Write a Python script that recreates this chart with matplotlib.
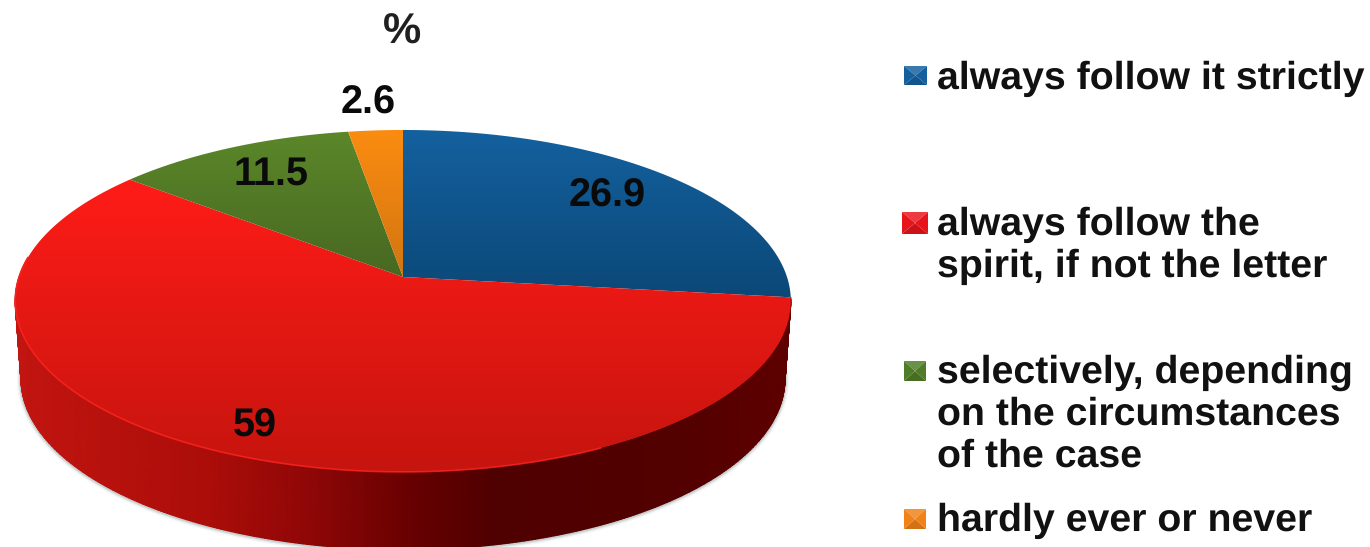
import numpy as np
from matplotlib import pyplot as plt
from matplotlib.colors import LinearSegmentedColormap, to_rgb
from matplotlib.patches import Polygon

plt.rcParams['font.family'] = ['Liberation Sans', 'DejaVu Sans']
plt.rcParams['text.hinting'] = 'none'

values = [26.9, 59, 11.5, 2.6]
legend_lines = [
    ['always follow it strictly'],
    ['always follow the', 'spirit, if not the letter'],
    ['selectively, depending', 'on the circumstances', 'of the case'],
    ['hardly ever or never'],
]
top_colors = [('#14619f', '#0b4877'), ('#ff1c18', '#c6140e'),
              ('#5b8729', '#486822'), ('#fb8c10', '#d27510')]
marker_colors = ['#14609f', '#e8141c', '#4f7c26', '#f08218']

# pie geometry in pixels, tilted disc seen in perspective
cx, cy = 403, 277
a, b, k = 384, 167.6, 0.14
depth = 78
rim_scale = 0.985


def project(theta):
    # theta is clockwise from twelve o'clock
    u, v = np.sin(theta), np.cos(theta)
    return cx + a * u / (1 + k * v), cy - b * v / (1 + k * v)


fig = plt.figure(figsize=(13.7, 5.47), dpi=100)
ax = fig.add_axes([0, 0, 1, 1])

angles = np.r_[0, np.cumsum(values)] / 100 * 2 * np.pi

# soft shadow under the rim and the red side wall
th = np.linspace(angles[1], angles[2], 400)
th = th[np.cos(th) < 0.12]
x_top, y_top = project(th)
x_low = cx + (x_top - cx) * rim_scale
y_low = y_top + depth
for w, al in [(6, 0.05), (4, 0.09), (2.5, 0.16)]:
    ax.plot(x_low, y_low + 0.5, color='#405050', lw=w, alpha=al, zorder=1)

side_cmap = LinearSegmentedColormap.from_list('side', [
    (0.0, '#c21510'), (0.25, '#ab0d09'), (0.38, '#8f0707'), (0.52, '#650000'),
    (0.62, '#4f0000'), (0.85, '#520000'), (1.0, '#5e0000')])
wall_x = np.vstack([x_top, x_low])
wall_y = np.vstack([y_top, y_low])
wall_c = (wall_x - 15) / 776
ax.pcolormesh(wall_x, wall_y, wall_c, cmap=side_cmap, vmin=0, vmax=1,
              shading='gouraud', zorder=2)

# top face, one clipped vertical gradient per slice
for i, (c1, c2) in enumerate(top_colors):
    arc = np.linspace(angles[i], angles[i + 1], 300)
    xs, ys = project(arc)
    pts = np.column_stack([np.r_[cx, xs], np.r_[cy, ys]])
    poly = Polygon(pts, closed=True, facecolor='none', edgecolor='none',
                   transform=ax.transData)
    ax.add_patch(poly)
    cmap = LinearSegmentedColormap.from_list('top%d' % i, [c1, c2])
    im = ax.imshow(np.linspace(0, 1, 256).reshape(-1, 1), cmap=cmap, aspect='auto',
                   extent=(pts[:, 0].min(), pts[:, 0].max(), pts[:, 1].max(), pts[:, 1].min()),
                   zorder=3)
    im.set_clip_path(poly)

# bright edge along the front of the red slice
edge = th[(th > np.pi * 0.85)]
ax.plot(*project(edge), color='#ff2420', lw=1.2, alpha=0.8, zorder=4)

label_pos = [(607, 196), (255, 426), (271, 174), (368, 103)]
for v, (lx, ly) in zip(values, label_pos):
    ax.text(lx, ly, '%g' % v, fontsize=28.5, fontweight='bold', color='#0a0a0a',
            ha='center', va='center', zorder=5)
ax.text(402, 33, '%', fontsize=31, fontweight='bold', color='#202020',
        ha='center', va='center')

# legend squares with a bevelled look, then the text beside them
marker_boxes = [(904, 66, 927, 85), (902, 212, 928, 234), (904, 361, 926, 381), (904, 509, 926, 529)]
baselines = [[89], [235, 277], [383, 425, 467], [531]]
for color, (x0, y0, x1, y1), lines, ybase in zip(marker_colors, marker_boxes, legend_lines, baselines):
    rgb = np.array(to_rgb(color))
    light = rgb + (1 - rgb) * 0.16
    dark = rgb * 0.88
    xm, ym = (x0 + x1) / 2, (y0 + y1) / 2
    ax.add_patch(Polygon([(x0, y0), (x1, y0), (xm, ym)], facecolor=light, lw=0, zorder=3))
    ax.add_patch(Polygon([(x0, y1), (x1, y1), (xm, ym)], facecolor=dark, lw=0, zorder=3))
    ax.add_patch(Polygon([(x0, y0), (x0, y1), (xm, ym)], facecolor=rgb, lw=0, zorder=3))
    ax.add_patch(Polygon([(x1, y0), (x1, y1), (xm, ym)], facecolor=rgb, lw=0, zorder=3))
    for line, yb in zip(lines, ybase):
        ax.text(937, yb, line, fontsize=28.3, fontweight='bold', color='#111111',
                ha='left', va='baseline')

ax.set_xlim(0, 1370)
ax.set_ylim(547, 0)
ax.axis('off')

fig.savefig('out.png', dpi=100)
